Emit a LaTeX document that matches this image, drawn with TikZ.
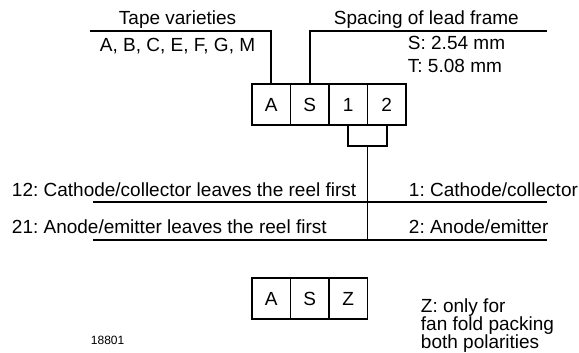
\documentclass[tikz,border=0pt]{standalone}
\usepackage{fontspec}
\setmainfont{Liberation Sans}
\usetikzlibrary{positioning}
\frenchspacing

\begin{document}
\begin{tikzpicture}[x=1pt, y=-1pt, line width=1.9pt,
    cell/.style={draw, rectangle, minimum width=38.5pt, minimum height=41pt, inner sep=0pt, outer sep=0pt, font=\fontsize{19}{22}\selectfont},
    lbl/.style={anchor=base west, inner sep=0pt, align=left, font=\fontsize{19}{18}\selectfont}]
  \useasboundingbox (0,0) rectangle (579,353);

  % type code cells
  \node[cell] (cA) at (271.25,104.5) {A};
  \node[cell, right=0pt of cA] (cS) {S};
  \node[cell, right=0pt of cS] (c1) {1};
  \node[cell, right=0pt of c1] (c2) {2};

  \node[cell] (zA) at (271.25,298.5) {A};
  \node[cell, right=0pt of zA] (zS) {S};
  \node[cell, right=0pt of zS] (zZ) {Z};

  % labels
  \node[lbl] (tape) at (118,25) {Tape varieties};
  \node[lbl] (types) at (99,52) {A, B, C, E, F, G, M};
  \node[lbl] (spacing) at (333,25) {Spacing of lead frame};
  \node[lbl] (sval) at (407,50) {S: 2.54 mm};
  \node[lbl] (tval) at (407,73) {T: 5.08 mm};
  \node[lbl] (ckfirst) at (11,196) {12: Cathode/collector leaves the reel first};
  \node[lbl] (anfirst) at (11,233) {21: Anode/emitter leaves the reel first};
  \node[lbl] (pin1) at (408,196) {1: Cathode/collector};
  \node[lbl] (pin2) at (408,233) {2: Anode/emitter};
  \node[lbl] (znote) at (420,348) {Z: only for\\fan fold packing\\both polarities};
  \node[lbl, font=\fontsize{12}{14}\selectfont] (fignum) at (90,344) {18801};

  \coordinate (tapeL) at (90,31);
  \coordinate (spacingR) at (547,31);
  \coordinate (row1L) at (93,202);
  \coordinate (row1R) at (547,202);
  \coordinate (row2L) at (93,240);
  \coordinate (row2R) at (547,240);
  \coordinate (brk) at ([yshift=-21pt]c1.south east);

  \draw (tapeL) -- (tapeL -| cA.north) -- (cA.north);
  \draw (spacingR) -- (spacingR -| cS.north) -- (cS.north);
  \draw (c1.south) |- (brk) -| (c2.south);
  \draw (brk) -- ([yshift=-1pt]brk |- row2L);
  \draw (row1L) -- (row1R);
  \draw (row2L) -- (row2R);
\end{tikzpicture}
\end{document}
